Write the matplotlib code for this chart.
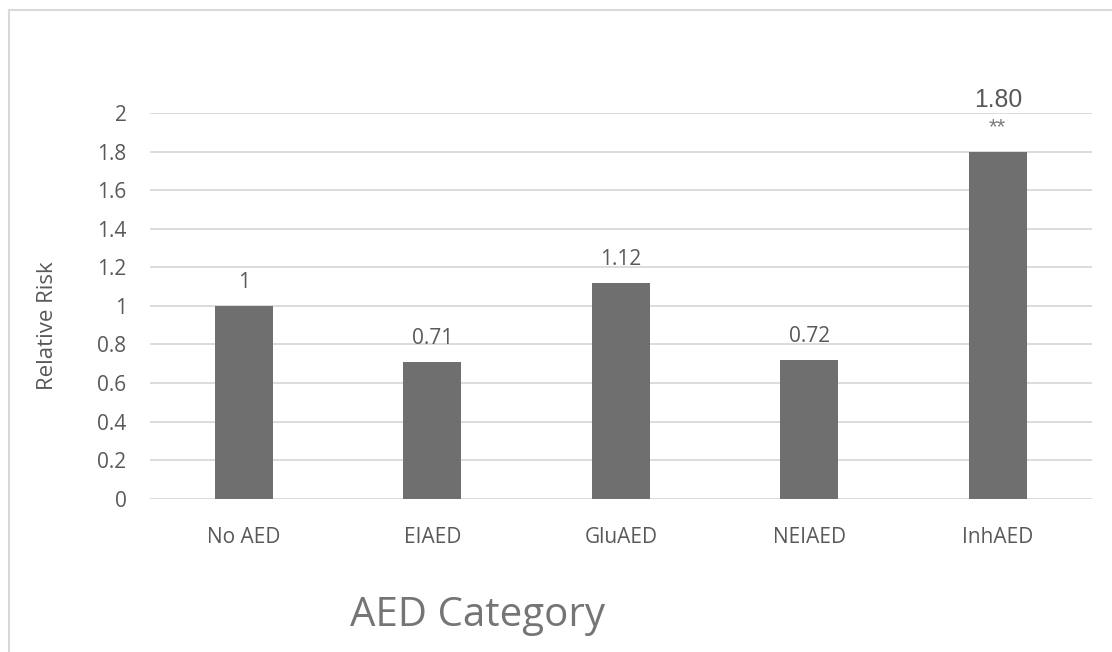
import numpy as np
import matplotlib.pyplot as plt
from matplotlib.lines import Line2D

# datos
categorias = ["No AED", "EIAED", "GluAED", "NEIAED", "InhAED"]
riesgo = [1.0, 0.71, 1.12, 0.72, 1.80]
etiquetas = ["1", "0.71", "1.12", "0.72", "**"]
y_ticks = [0, 0.2, 0.4, 0.6, 0.8, 1, 1.2, 1.4, 1.6, 1.8, 2]
y_tick_labels = ["0", "0.2", "0.4", "0.6", "0.8", "1", "1.2", "1.4", "1.6", "1.8", "2"]

plt.rcParams['font.family'] = ['Open Sans', 'DejaVu Sans']

fig = plt.figure(figsize=(11.12, 6.52), dpi=100)
W, H = 1112, 652
ax = fig.add_axes([149.5 / W, 1 - 498.7 / H, (1092 - 149.5) / W, (498.7 - 113) / H])

x = np.arange(len(categorias))
ax.bar(x, riesgo, width=0.31, color="#6f6f6f", zorder=3)

ax.set_xlim(-0.5, len(categorias) - 0.5)
ax.set_ylim(0, 2)
ax.set_yticks(y_ticks)
ax.set_yticklabels(y_tick_labels)
ax.set_xticks(x)
ax.set_xticklabels(categorias)
ax.tick_params(axis='y', length=0, pad=16.5, labelsize=15, labelcolor="#595959")
ax.tick_params(axis='x', length=0, pad=20.5, labelsize=15, labelcolor="#595959")
ax.grid(axis='y', color="#d9d9d9", linewidth=1.3, zorder=0)
for s in ax.spines.values():
    s.set_visible(False)

# etiquetas de datos
for xi, v, lab in zip(x, riesgo, etiquetas):
    if lab == "**":
        ax.annotate(lab, (xi, v), xytext=(0, 13), textcoords="offset points",
                    ha="center", va="baseline", fontsize=16, color="#7f7f7f",
                    family="Liberation Sans")
    else:
        ax.annotate(lab, (xi, v), xytext=(0, 13), textcoords="offset points",
                    ha="center", va="baseline", fontsize=15, color="#595959")
ax.annotate("1.80", (x[-1], riesgo[-1]), xytext=(0, 32), textcoords="offset points",
            ha="center", va="baseline", fontsize=17.8, color="#595959",
            family="Liberation Sans")

ax.set_ylabel("Relative Risk", fontsize=16, color="#595959")
ax.yaxis.set_label_coords(58 / W, 0.5, transform=fig.transFigure)

fig.text(478 / W, 1 - 626 / H, "AED Category", ha="center", va="baseline",
         fontsize=29, color="#757575")

# borde del área del gráfico
fig.add_artist(Line2D([9 / W, 9 / W], [0, 1 - 10 / H], transform=fig.transFigure,
                      color="#d9d9d9", linewidth=1.5))
fig.add_artist(Line2D([9 / W, 1], [1 - 10 / H, 1 - 10 / H], transform=fig.transFigure,
                      color="#d9d9d9", linewidth=1.5))

fig.savefig("out.png", dpi=100)
